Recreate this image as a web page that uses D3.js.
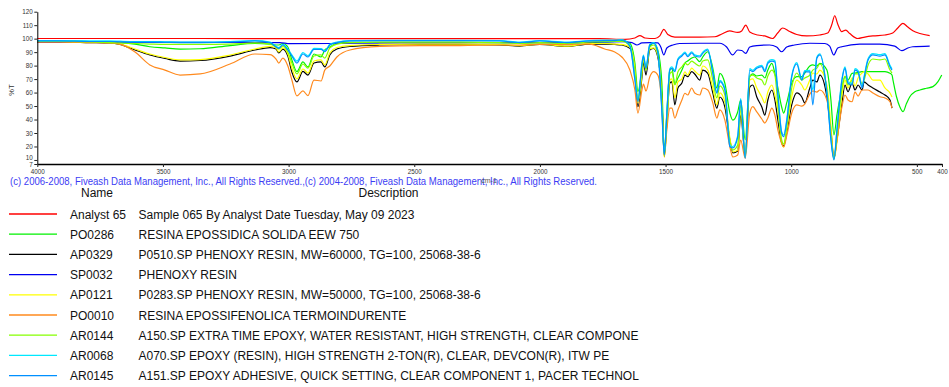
<!DOCTYPE html>
<html>
<head>
<meta charset="utf-8">
<script src="https://cdn.jsdelivr.net/npm/d3@7"></script>
<style>
body { margin: 0; background: #fff; }
svg { display: block; font-family: "Liberation Sans", Arial, sans-serif; }
</style>
</head>
<body>
<svg width="949" height="387"></svg>
<script>
// data.........................................................................

var names = ["Analyst 65", "PO0286", "AP0329", "SP0032", "AP0121",
	"PO0010", "AR0144", "AR0068", "AR0145"];

var descriptions = [
	"Sample 065 By Analyst Date Tuesday, May 09 2023",
	"RESINA EPOSSIDICA SOLIDA EEW 750",
	"P0510.SP PHENOXY RESIN, MW=60000, TG=100, 25068-38-6",
	"PHENOXY RESIN",
	"P0283.SP PHENOXY RESIN, MW=50000, TG=100, 25068-38-6",
	"RESINA EPOSSIFENOLICA TERMOINDURENTE",
	"A150.SP EXTRA TIME EPOXY, WATER RESISTANT, HIGH STRENGTH, CLEAR COMPONE",
	"A070.SP EPOXY (RESIN), HIGH STRENGTH 2-TON(R), CLEAR, DEVCON(R), ITW PE",
	"A151.SP EPOXY ADHESIVE, QUICK SETTING, CLEAR COMPONENT 1, PACER TECHNOL"
];

var xTicks = [4000, 3500, 3000, 2500, 2000, 1500, 1000, 500, 400];
var yTicks = [120, 110, 100, 90, 80, 70, 60, 50, 40, 30, 20, 10, 7];

// shared wavenumber grid (cm-1) for the library spectra
var wavenumbers = [
	4000, 3910, 3791, 3711, 3671, 3611, 3552, 3492, 3432, 3352,
	3233, 3134, 3074, 3050, 3039, 3023, 3003, 2987, 2967, 2943,
	2923, 2899, 2871, 2856, 2836, 2808, 2756, 2637, 2478, 2319,
	2160, 2080, 2001, 1893, 1802, 1742, 1702, 1674, 1642, 1622,
	1610, 1594, 1588, 1578, 1563, 1547, 1531, 1515, 1505, 1495,
	1483, 1475, 1463, 1451, 1435, 1423, 1412, 1396, 1384, 1364,
	1352, 1332, 1312, 1296, 1284, 1264, 1244, 1232, 1213, 1201,
	1183, 1165, 1153, 1137, 1117, 1105, 1093, 1077, 1065, 1053,
	1038, 1030, 1018, 998, 978, 958, 946, 926, 914, 898,
	886, 858, 842, 830, 818, 798, 786, 774, 758, 746,
	734, 718, 710, 694, 675, 647, 627, 607, 599];

// %T on the grid above
var po0286 = [
	98.3, 98.3, 97.9, 97.5, 97.1, 96.0, 94.0, 93.1, 92.3, 92.5,
	94.9, 96.4, 96.0, 95.3, 95.3, 96.4, 93.8, 84.2, 75.5, 82.7,
	79.0, 88.6, 86.4, 91.6, 93.8, 96.6, 97.3, 97.3, 97.3, 97.3,
	97.1, 96.8, 97.1, 96.8, 97.1, 97.5, 97.9, 98.6, 96.6, 81.9,
	60.6, 76.7, 84.2, 78.2, 94.0, 96.6, 91.6, 67.9, 15.2, 44.8,
	76.7, 78.0, 66.3, 70.8, 76.7, 81.9, 83.4, 85.6, 86.4, 82.9,
	86.4, 90.3, 78.2, 63.2, 74.3, 66.9, 44.8, 39.6, 45.6, 54.5,
	24.8, 71.8, 73.8, 72.3, 73.0, 70.8, 76.7, 81.7, 74.3, 63.4,
	49.3, 44.8, 52.3, 66.9, 71.8, 71.8, 74.5, 79.7, 80.5, 79.7,
	81.7, 76.7, 54.5, 28.5, 43.4, 63.2, 71.8, 69.3, 74.3, 74.5,
	74.9, 75.5, 75.5, 75.5, 75.5, 75.5, 75.5, 74.3, 73.0];
var po0286Tail = [[595, 69.3], [581, 56.9], [568, 49.5], [555, 45.8],
	[541, 52.0], [528, 56.9], [508, 60.6], [488, 61.9], [462, 63.2],
	[436, 64.4], [416, 68.1], [401, 73.0]];

var ap0329 = [
	97.5, 97.5, 97.1, 96.8, 95.7, 91.6, 87.9, 85.3, 83.4, 83.8,
	87.1, 91.6, 93.4, 92.3, 89.4, 92.3, 87.1, 75.3, 67.9, 75.7,
	73.0, 81.9, 82.7, 79.0, 87.9, 92.3, 94.2, 95.3, 95.7, 95.7,
	95.3, 94.5, 95.7, 94.2, 96.0, 96.0, 95.7, 95.3, 92.8, 76.7,
	49.5, 71.5, 82.7, 73.0, 91.6, 92.7, 86.4, 56.7, 13.7, 37.4,
	67.1, 67.9, 50.8, 63.4, 67.1, 73.0, 71.8, 75.5, 73.8, 69.3,
	76.7, 74.3, 59.7, 48.5, 56.7, 49.3, 24.8, 15.2, 16.6, 43.3,
	13.7, 64.1, 65.6, 56.7, 49.3, 43.3, 54.5, 61.9, 54.5, 39.6,
	22.6, 20.4, 30.0, 50.8, 59.7, 56.7, 52.3, 63.4, 69.3, 67.9,
	73.0, 56.7, 32.2, 11.4, 24.8, 52.3, 65.6, 60.6, 67.1, 61.9,
	65.6, 61.9, 67.9, 65.6, 63.4, 60.4, 58.2, 54.5, 48.5];

var ap0121 = [
	97.9, 97.9, 97.5, 97.1, 96.0, 92.3, 88.6, 86.0, 84.2, 84.5,
	87.9, 92.3, 94.2, 93.1, 90.1, 93.1, 88.6, 78.2, 70.1, 77.5,
	74.5, 83.4, 84.2, 80.5, 89.4, 93.4, 94.9, 95.7, 96.0, 96.0,
	95.7, 94.9, 96.0, 94.5, 96.4, 96.4, 96.0, 95.7, 93.8, 78.2,
	52.3, 73.8, 84.9, 76.7, 92.3, 93.1, 87.9, 56.7, 12.2, 35.9,
	69.3, 70.1, 56.0, 67.9, 70.1, 75.3, 73.0, 78.2, 76.0, 73.0,
	79.7, 76.7, 63.4, 50.8, 59.7, 53.0, 26.3, 15.9, 17.4, 47.1,
	12.9, 69.3, 70.1, 63.4, 56.7, 52.3, 60.4, 65.6, 58.2, 47.1,
	22.6, 19.6, 32.2, 56.7, 69.3, 65.6, 61.9, 69.3, 74.5, 73.8,
	76.7, 65.6, 35.9, 10.7, 23.3, 58.2, 69.3, 63.4, 70.8, 64.9,
	70.8, 74.5, 75.5, 73.8, 69.3, 69.3, 63.4, 59.7, 56.7];

var po0010 = [
	97.5, 97.5, 97.1, 96.8, 96.0, 90.1, 80.5, 76.7, 73.0, 73.8,
	81.2, 88.6, 88.2, 84.9, 81.9, 85.6, 79.7, 69.3, 57.5, 61.2,
	57.8, 69.3, 68.6, 76.7, 79.7, 86.4, 91.6, 94.2, 94.9, 94.9,
	95.3, 95.3, 95.7, 95.7, 96.0, 92.3, 90.1, 86.4, 76.7, 61.9,
	44.8, 61.9, 66.3, 61.2, 71.5, 75.5, 73.0, 50.8, 12.2, 32.2,
	48.5, 48.5, 41.1, 47.1, 54.5, 59.5, 58.2, 63.4, 59.7, 58.2,
	63.4, 61.9, 52.3, 41.1, 47.1, 39.6, 19.6, 12.2, 13.7, 24.8,
	11.4, 44.8, 49.5, 45.6, 40.4, 37.4, 41.1, 48.5, 43.3, 32.2,
	22.6, 19.6, 27.8, 44.8, 50.8, 50.0, 51.5, 58.9, 61.2, 60.4,
	61.9, 54.5, 30.0, 11.4, 24.8, 49.5, 58.2, 54.5, 53.2, 60.4,
	57.4, 61.9, 61.9, 61.9, 59.7, 56.9, 56.0, 53.2, 48.5];

var ar0144 = [
	97.9, 97.9, 97.5, 97.1, 96.8, 96.4, 96.0, 95.7, 95.7, 95.7,
	96.0, 96.8, 96.0, 93.8, 92.3, 94.5, 90.1, 81.9, 73.8, 81.2,
	78.2, 87.1, 87.9, 85.6, 93.1, 96.0, 97.1, 97.5, 97.5, 97.5,
	97.1, 96.4, 97.1, 96.4, 97.5, 97.9, 97.9, 97.9, 94.5, 75.3,
	54.5, 76.7, 85.6, 76.7, 93.8, 95.3, 88.6, 54.5, 12.9, 39.6,
	73.8, 75.3, 65.6, 75.3, 79.0, 81.9, 80.5, 83.4, 81.9, 79.7,
	83.4, 84.2, 69.3, 56.0, 64.9, 58.2, 23.3, 17.4, 21.1, 50.8,
	12.2, 72.3, 73.0, 70.8, 69.3, 65.6, 72.3, 76.7, 73.0, 50.8,
	24.8, 21.8, 33.7, 63.4, 74.5, 69.3, 70.8, 73.0, 76.7, 78.2,
	81.2, 61.9, 28.5, 10.7, 28.5, 63.4, 72.3, 65.6, 69.3, 73.8,
	73.8, 66.4, 69.3, 80.5, 84.9, 84.2, 84.9, 76.7, 74.5];

var ar0068 = [
	98.6, 98.6, 98.3, 98.3, 98.1, 97.9, 97.9, 97.7, 97.5, 97.5,
	97.9, 98.6, 97.5, 94.3, 93.3, 95.8, 92.3, 88.0, 83.4, 89.6,
	87.5, 92.8, 92.6, 91.0, 95.8, 97.5, 98.6, 98.8, 98.8, 98.8,
	98.6, 97.5, 98.6, 97.5, 98.6, 98.9, 98.9, 99.3, 95.0, 70.5,
	54.5, 82.0, 87.8, 78.8, 95.8, 97.0, 90.8, 48.5, 14.5, 44.5,
	77.8, 79.0, 76.5, 85.0, 88.0, 90.0, 87.5, 90.3, 88.0, 87.3,
	90.0, 92.3, 75.3, 60.5, 69.0, 63.0, 21.0, 20.0, 28.0, 55.5,
	12.0, 77.8, 76.5, 79.0, 80.2, 76.5, 82.7, 84.4, 83.7, 59.5,
	31.0, 28.5, 39.5, 72.5, 82.2, 70.5, 76.3, 76.5, 62.0, 86.3,
	88.8, 60.5, 25.8, 10.8, 33.2, 70.3, 79.0, 68.0, 66.8, 77.8,
	76.3, 64.5, 71.8, 85.2, 88.9, 88.1, 88.9, 80.2, 77.6];

var ar0145 = [
	98.3, 98.3, 97.9, 97.9, 97.7, 97.5, 97.5, 97.3, 97.1, 97.1,
	97.5, 98.3, 97.1, 93.8, 92.8, 95.3, 91.6, 87.1, 81.9, 88.6,
	86.4, 92.0, 92.0, 90.3, 95.3, 97.1, 98.3, 98.5, 98.5, 98.5,
	98.3, 97.1, 98.3, 97.1, 98.3, 98.6, 98.6, 99.0, 94.5, 69.3,
	53.2, 81.2, 87.1, 78.0, 95.3, 96.6, 90.1, 47.1, 13.7, 43.4,
	76.7, 78.0, 75.5, 84.2, 87.1, 89.1, 86.6, 89.4, 87.1, 86.4,
	89.1, 91.6, 74.3, 59.5, 68.1, 61.9, 19.8, 18.9, 27.0, 54.5,
	11.2, 76.7, 75.5, 78.0, 79.2, 75.5, 81.7, 83.4, 82.7, 58.2,
	29.8, 27.3, 38.2, 71.5, 81.2, 69.3, 75.3, 75.3, 50.8, 85.4,
	87.9, 59.5, 24.8, 10.0, 32.2, 69.3, 78.0, 66.9, 65.6, 76.7,
	75.3, 63.4, 70.8, 84.2, 87.9, 87.1, 87.9, 79.2, 76.7];

// the sample and SP0032 carry their own [cm-1, %T] points
var analyst65 = [[4000, 100.1], [3353, 100.1], [2557, 100.0], [1921, 100.0],
	[1762, 100.0], [1662, 99.5], [1622, 100.5], [1602, 102.3], [1582, 100.5],
	[1542, 100.1], [1523, 102.0], [1507, 106.9], [1491, 103.1], [1463, 101.2],
	[1364, 101.2], [1304, 101.4], [1276, 103.5], [1245, 105.7], [1213, 104.6],
	[1197, 105.7], [1181, 110.1], [1165, 104.9], [1133, 102.7], [1105, 102.0],
	[1074, 100.1], [1054, 104.2], [1034, 107.9], [1006, 105.3], [978, 103.1],
	[938, 102.0], [887, 102.7], [855, 104.2], [839, 110.1], [827, 117.0],
	[815, 110.9], [799, 105.2], [783, 106.4], [767, 103.8], [735, 100.1],
	[707, 101.2], [675, 102.0], [627, 102.7], [596, 104.2], [576, 107.9],
	[556, 111.4], [536, 108.6], [516, 105.9], [488, 103.8], [449, 102.2]];

var sp0032 = [[4000, 97.5], [3552, 97.3], [3035, 97.1], [2995, 96.3],
	[2836, 96.4], [2557, 96.9], [1921, 97.0], [1762, 97.5], [1662, 97.7],
	[1634, 97.1], [1614, 95.3], [1594, 96.8], [1563, 97.0], [1531, 96.8],
	[1519, 93.8], [1507, 87.9], [1495, 93.1], [1471, 95.3], [1444, 96.4],
	[1364, 96.6], [1284, 96.6], [1257, 93.8], [1233, 87.9], [1213, 91.6],
	[1197, 91.2], [1181, 89.1], [1165, 93.8], [1137, 94.9], [1086, 95.3],
	[1058, 93.8], [1038, 90.3], [1018, 93.8], [987, 95.3], [926, 96.6],
	[866, 96.4], [847, 94.5], [831, 87.9], [815, 93.1], [799, 94.0],
	[728, 96.0], [648, 96.0], [588, 94.5], [560, 91.1], [536, 93.1],
	[516, 94.0], [449, 94.5]];

// styles.......................................................................

var colors = ["#ff0000", "#00f000", "#000000", "#0000f0", "#ffff00",
	"#ff8a1e", "#86ff00", "#00e8ff", "#0090ff"];

// build series.................................................................

function onGrid(values) {
	return wavenumbers.map(function(w, i) { return [w, values[i]]; });
}

var spectra = [
	analyst65,
	onGrid(po0286).concat(po0286Tail),
	onGrid(ap0329),
	sp0032,
	onGrid(ap0121),
	onGrid(po0010),
	onGrid(ar0144),
	onGrid(ar0068),
	onGrid(ar0145)
];

// chart........................................................................

var svg = d3.select("svg");

var x = d3.scaleLinear().domain([4000, 400]).range([37.3, 942]),
	y = d3.scaleLinear().domain([7, 120]).range([164, 11.7]);

var line = d3.line()
	.x(function(d) { return x(d[0]); })
	.y(function(d) { return y(d[1]); })
	.curve(d3.curveMonotoneX);

svg.append("g").attr("class", "spectra")
	.selectAll("path")
	.data(spectra)
	.enter().append("path")
		.attr("d", line)
		.attr("fill", "none")
		.attr("stroke", function(d, i) { return colors[i]; })
		.attr("stroke-width", 1.2)
		.attr("stroke-linejoin", "round");

// axes
var yAxis = svg.append("g")
	.attr("transform", "translate(" + x(4000) + ",0)")
	.call(d3.axisLeft(y).tickValues(yTicks).tickSize(3).tickPadding(1.5).tickSizeOuter(0));

var xAxis = svg.append("g")
	.attr("transform", "translate(0," + y(7) + ")")
	.call(d3.axisBottom(x).tickValues(xTicks).tickFormat(d3.format("d"))
		.tickSize(3).tickPadding(3).tickSizeOuter(0));

[yAxis, xAxis].forEach(function(a) {
	a.selectAll("text").attr("font-size", 6.3).attr("fill", "#333")
		.attr("font-family", "'Liberation Sans', Arial, sans-serif");
	a.selectAll("line").attr("stroke", "#222");
});
xAxis.select(".domain").attr("stroke", "#000").attr("stroke-width", 1.3);
yAxis.select(".domain").attr("stroke", "#000").attr("stroke-width", 1);
// keep the "10" label clear of the "7" label
yAxis.selectAll(".tick").filter(function(d) { return d === 10; })
	.select("text").attr("dy", "0.0em");

svg.append("text")
	.attr("transform", "translate(14,90) rotate(-90)")
	.attr("text-anchor", "middle")
	.attr("font-size", 7.5)
	.attr("fill", "#333")
	.text("%T");

// copyright line and unit label
svg.append("text")
	.attr("x", 10).attr("y", 185)
	.attr("font-size", 10.6)
	.attr("fill", "#3c3cf4")
	.attr("textLength", 587)
	.attr("lengthAdjust", "spacingAndGlyphs")
	.text("(c) 2006-2008, Fiveash Data Management, Inc., All Rights Reserved.,(c) 2004-2008, Fiveash Data Management, Inc., All Rights Reserved.");

svg.append("text")
	.attr("x", 489).attr("y", 182.5)
	.attr("text-anchor", "middle")
	.attr("font-size", 7)
	.attr("fill", "#555")
	.text("cm-1");

// legend.......................................................................

var legendTop = 214, rowGap = 20.2;

svg.append("text")
	.attr("x", 97).attr("y", 196.5)
	.attr("text-anchor", "middle")
	.attr("font-size", 12).attr("fill", "#111")
	.text("Name");
svg.append("text")
	.attr("x", 388.5).attr("y", 196.5)
	.attr("text-anchor", "middle")
	.attr("font-size", 12).attr("fill", "#111")
	.text("Description");

var rows = svg.append("g").attr("class", "legend")
	.selectAll("g")
	.data(names)
	.enter().append("g")
		.attr("transform", function(d, i) {
			return "translate(0," + (legendTop + i * rowGap) + ")"; });

rows.append("line")
	.attr("x1", 9).attr("x2", 57)
	.attr("stroke", function(d, i) { return colors[i]; })
	.attr("stroke-width", 1.3);

rows.append("text")
	.attr("x", 70).attr("y", 4.5)
	.attr("font-size", 12).attr("fill", "#111")
	.text(function(d) { return d; });

rows.append("text")
	.attr("x", 138.5).attr("y", 4.5)
	.attr("font-size", 12).attr("fill", "#111")
	.text(function(d, i) { return descriptions[i]; });
</script>
</body>
</html>
